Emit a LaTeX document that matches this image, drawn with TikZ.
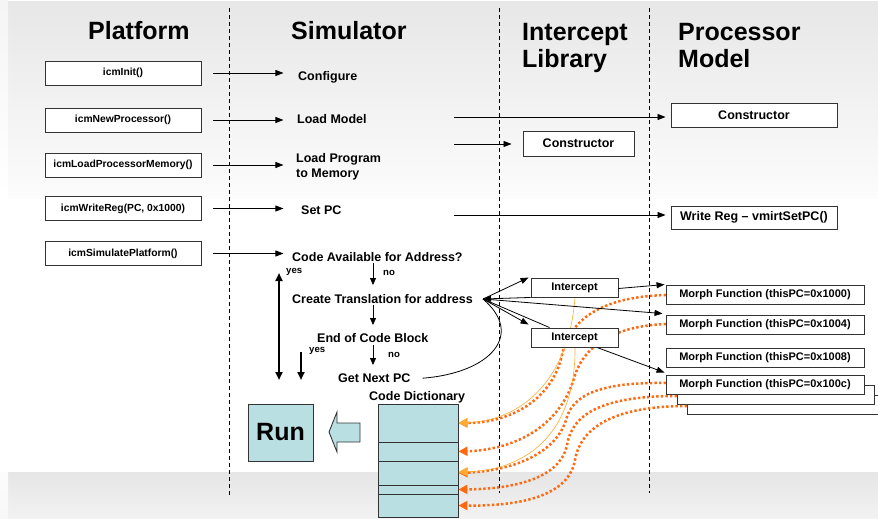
\documentclass[tikz,border=0pt]{standalone}
\usepackage{fontspec}
\setmainfont{Liberation Sans}
\usetikzlibrary{arrows.meta}
\definecolor{tealfill}{HTML}{B9DFE3}
\definecolor{org}{HTML}{FF6A10}
\definecolor{lorg}{HTML}{FFAA33}
\definecolor{bord}{HTML}{333333}
\definecolor{bgtop}{HTML}{E7E7E7}
\definecolor{bgbot}{HTML}{FCFCFC}
\begin{document}
\begin{tikzpicture}[x=1pt,y=-1pt,
  lbox/.style={draw=bord, line width=0.9pt, fill=white, minimum width=156pt, minimum height=24pt, inner sep=0pt, font=\fontsize{10.3}{12}\selectfont\bfseries},
  rbox/.style={draw=bord, line width=0.9pt, fill=white, inner sep=0pt, font=\fontsize{12.5}{15}\selectfont\bfseries},
  sbox/.style={draw=bord, line width=0.9pt, fill=white, inner sep=0pt, font=\fontsize{11}{13}\selectfont\bfseries},
  slbl/.style={anchor=base west, inner sep=0pt, align=left, font=\fontsize{12.5}{15}\selectfont\bfseries},
  ylbl/.style={anchor=base west, inner sep=0pt, font=\fontsize{9.6}{11}\selectfont\bfseries},
  hdr/.style={anchor=base west, inner sep=0pt, align=left, font=\fontsize{25}{27}\selectfont\bfseries},
  dslot/.style={draw=bord, line width=0.9pt, fill=tealfill, minimum width=80pt, inner sep=0pt},
  arr/.style={-{Triangle[length=8pt,width=6pt]}, line width=0.8pt},
  sarr/.style={-{Triangle[length=7pt,width=6pt]}, line width=0.8pt},
  thick arr/.style={line width=2pt},
  lane/.style={dashed, dash pattern=on 4pt off 3pt, line width=0.8pt},
  odot/.style={org, line width=2.5pt, dash pattern=on 2.4pt off 2.2pt, -{Triangle[length=9pt,width=9pt]}},
  othin/.style={lorg, line width=0.6pt, -{Triangle[length=9pt,width=9pt]}}
]
\useasboundingbox (0,0) rectangle (878,519);
% background
\fill[white] (0,0) rectangle (878,519);
\shade[top color=bgtop, bottom color=bgbot] (8,2) rectangle (878,198);
\shade[top color=black!4, bottom color=white] (0,0) rectangle (8,198);
\shade[top color=black!10, bottom color=black!5] (8,472) rectangle (878,519);
\shade[top color=black!1, bottom color=black!3] (0,472) rectangle (8,519);

% lanes
\draw[lane] (229,8) -- (229,495);
\draw[lane] (499,8) -- (499,493);
\draw[lane] (649,8) -- (649,493);

% headers
\node[hdr] (hp) at (88,40) {Platform};
\node[hdr] (hs) at (291,40) {Simulator};
\node[hdr] (hi) at (522,67) {Intercept\\Library};
\node[hdr] (hm) at (678,67) {Processor\\Model};

% platform boxes
\node[lbox] (b1) at (123,73) {icmInit()};
\node[lbox] (b2) at (123,120) {icmNewProcessor()};
\node[lbox] (b3) at (123,165) {icmLoadProcessorMemory()};
\node[lbox] (b4) at (123,208.5) {icmWriteReg(PC, 0x1000)};
\node[lbox] (b5) at (123,253.5) {icmSimulatePlatform()};

% simulator labels
\node[slbl] (l1) at (298,80.5) {Configure};
\node[slbl] (l2) at (297,123.5) {Load Model};
\node[slbl] (l3) at (296,177.5) {Load Program\\to Memory};
\node[slbl] (l4) at (301,214.5) {Set PC};
\node[slbl] (l6) at (292,261) {Code Available for Address?};
\node[slbl] (l7) at (292,303.5) {Create Translation for address};
\node[slbl] (l8) at (317,342.5) {End of Code Block};
\node[slbl] (l9) at (338,382.5) {Get Next PC};
\node[slbl] (ldict) at (369,400.5) {Code Dictionary};

\node[ylbl] (y1) at (286,273) {yes};
\node[ylbl] (n1) at (383,275.5) {no};
\node[ylbl] (y2) at (309,352.5) {yes};
\node[ylbl] (n2) at (388,357.5) {no};

% platform -> simulator arrows
\foreach \b in {b1,b2,b3,b4,b5}
  \draw[arr] ([xshift=12pt]\b.east) -- ([xshift=82pt]\b.east);

% right side boxes
\node[rbox, minimum width=166pt, minimum height=24pt] (pmc) at (754,115) {Constructor};
\node[rbox, minimum width=111pt, minimum height=25pt] (ilc) at (578.5,143.5) {Constructor};
\node[rbox, minimum width=166pt, minimum height=23pt] (wr) at (754,217.5) {Write Reg -- vmirtSetPC()};

\coordinate (s1) at (454,117);
\coordinate (s2) at (454,144);
\coordinate (s3) at (454,215);
\draw[arr, shorten >=5pt] (s1) -- (s1 -| pmc.west);
\draw[arr, shorten >=11pt] (s2) -- (s2 -| ilc.west);
\draw[arr, shorten >=5pt] (s3) -- (s3 -| wr.west);

% flow arrows
\coordinate (f1) at (373,263);
\coordinate (f2) at (373,285);
\coordinate (f3) at (373,305);
\coordinate (f4) at (373,325);
\coordinate (f5) at (373,345);
\coordinate (f6) at (373,365);
\draw[sarr] (f1) -- (f2);
\draw[sarr] (f3) -- (f4);
\draw[sarr] (f5) -- (f6);
\coordinate (t1) at (279,273);
\coordinate (t2) at (279,380);
\coordinate (t3) at (301,352);
\coordinate (t4) at (301,380);
\draw[thick arr, {Triangle[length=8pt,width=7pt]}-{Triangle[length=8pt,width=7pt]}] (t1) -- (t2);
\draw[thick arr, -{Triangle[length=8pt,width=7pt]}] (t3) -- (t4);

% code dictionary
\node[dslot, minimum height=38pt] (d1) at (418,423) {};
\node[dslot, minimum height=19pt] (d2) at (418,451.5) {};
\node[dslot, minimum height=24pt] (d3) at (418,473) {};
\node[dslot, minimum height=9pt] (d4) at (418,489.5) {};
\node[dslot, minimum height=23pt] (d5) at (418,505.5) {};

% run box and block arrow
\node[draw=bord, line width=0.9pt, fill=tealfill, minimum width=65pt, minimum height=57pt, inner sep=0pt, font=\fontsize{25}{28}\selectfont\bfseries] (run) at (280.5,432.5) {Run};
\draw[draw=bord, line width=0.9pt, fill=tealfill] (360,423) -- (337,423) -- (337,412) -- (329,432) -- (337,452) -- (337,442) -- (360,442) -- cycle;

% morph boxes (back ones first)
\node[sbox, minimum width=203pt, minimum height=19pt] (m6) at (788.5,404.5) {};
\node[sbox, minimum width=197pt, minimum height=19pt] (m5) at (775.5,394.5) {};

% orange dotted curves
\draw[odot] (666,295) .. controls (600,297) and (570,320) .. (562,355) .. controls (552,400) and (510,423) .. (d1.east);
\draw[odot] (666,324) .. controls (615,326) and (585,345) .. (575,375) .. controls (560,430) and (510,450) .. (d2.east);
\draw[odot] (666,383) .. controls (600,382) and (572,395) .. (566,420) .. controls (555,455) and (510,471) .. (d3.east);
\draw[odot] (677,396) .. controls (600,396) and (572,415) .. (567,445) .. controls (560,480) and (510,489) .. (d4.east);
\draw[odot] (687,406) .. controls (610,406) and (580,430) .. (575,460) .. controls (568,500) and (510,506) .. (d5.east);

% thin orange curves
\draw[othin] (575,297) .. controls (570,370) and (530,420) .. (d1.east);
\draw[othin] (575,347) .. controls (576,430) and (530,470) .. ([yshift=1pt]d3.east);

% intercept boxes
\node[sbox, minimum width=87pt, minimum height=19pt] (i1) at (574.5,287.5) {Intercept};
\node[sbox, minimum width=87pt, minimum height=19pt] (i2) at (574.5,337.5) {Intercept};

% front morph boxes
\node[sbox, minimum width=198pt, minimum height=19pt] (m1) at (765,294.5) {Morph Function (thisPC=0x1000)};
\node[sbox, minimum width=198pt, minimum height=19pt] (m2) at (765,324.5) {Morph Function (thisPC=0x1004)};
\node[sbox, minimum width=198pt, minimum height=19pt] (m3) at (765,357.5) {Morph Function (thisPC=0x1008)};
\node[sbox, minimum width=198pt, minimum height=19pt] (m4) at (765,384.5) {Morph Function (thisPC=0x100c)};

% translation fan
\coordinate (P) at (483,299);
\draw[arr] (P) -- ([xshift=-2pt]i1.north west);
\draw[arr] (P) -- ([xshift=-2pt,yshift=3pt]i2.north west);
\draw[arr] (i1.south west) -- (P);
\draw[line width=0.8pt] ([xshift=19pt]i2.north west) -- (P);
\draw[arr] (P) -- ([xshift=-3pt,yshift=1pt]m2.north west);
\draw[arr] ([yshift=-1pt]i1.east) -- ([xshift=-1pt]m1.north west);
\draw[arr] ([xshift=22.5pt]i2.south) -- ([xshift=-1pt,yshift=2pt]m4.north west);
\draw[line width=0.8pt] ([xshift=12pt]l9.east) .. controls (490,373) and (525,335) .. (P);
\end{tikzpicture}
\end{document}
